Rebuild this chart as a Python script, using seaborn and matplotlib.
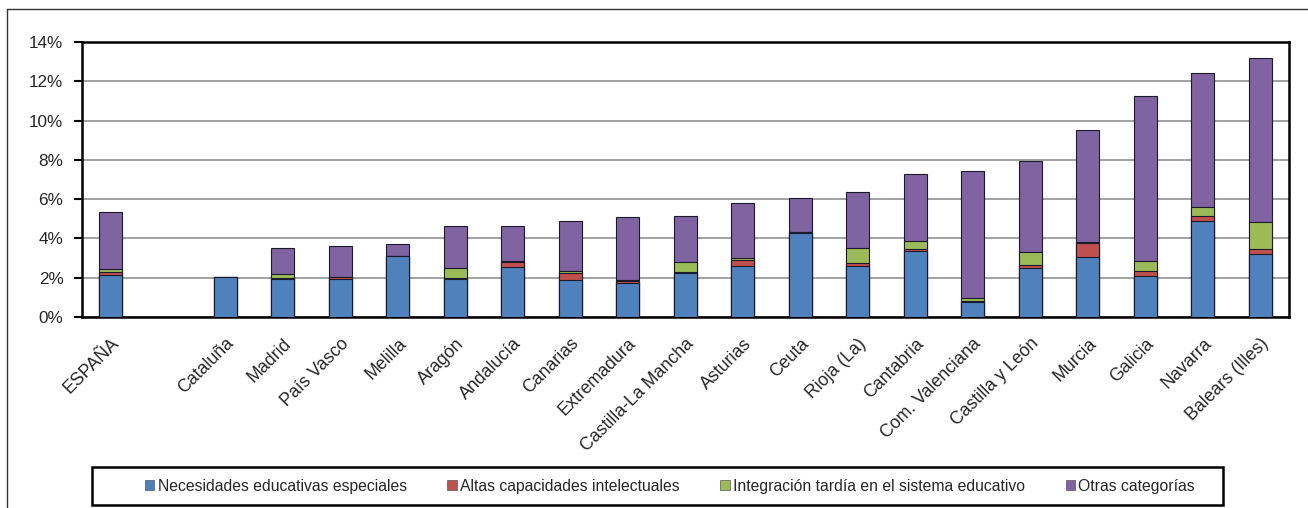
import numpy as np
import pandas as pd
import matplotlib
matplotlib.use("Agg")
import matplotlib.pyplot as plt
from matplotlib.lines import Line2D
from matplotlib.patches import Patch, Rectangle
import seaborn as sns

regions = ["ESPAÑA", " ", "Cataluña", "Madrid", "País Vasco", "Melilla", "Aragón",
           "Andalucía", "Canarias", "Extremadura", "Castilla-La Mancha", "Asturias",
           "Ceuta", "Rioja (La)", "Cantabria", "Com. Valenciana", "Castilla y León",
           "Murcia", "Galicia", "Navarra", "Balears (Illes)"]

nee = [2.12, 0, 2.02, 1.92, 1.93, 3.10, 1.93, 2.56, 1.87, 1.71, 2.22, 2.60,
       4.26, 2.61, 3.34, 0.75, 2.48, 3.04, 2.07, 4.89, 3.19]
altas = [0.17, 0, 0.01, 0.08, 0.09, 0.02, 0.04, 0.24, 0.35, 0.12, 0.09, 0.30,
         0.07, 0.12, 0.12, 0.05, 0.15, 0.71, 0.27, 0.24, 0.26]
tardia = [0.17, 0, 0.01, 0.17, 0.01, 0.00, 0.50, 0.05, 0.10, 0.04, 0.47, 0.12,
          0.02, 0.77, 0.39, 0.15, 0.66, 0.08, 0.53, 0.45, 1.37]
otras = [2.87, 0, 0.01, 1.33, 1.57, 0.58, 2.17, 1.80, 2.58, 3.20, 2.34, 2.78,
         1.69, 2.88, 3.41, 6.48, 4.64, 5.67, 8.40, 6.82, 8.38]

series_names = ["Necesidades educativas especiales", "Altas capacidades intelectuales",
                "Integración tardía en el sistema educativo", "Otras categorías"]
colors = ["#4F81BD", "#C0504D", "#9BBB59", "#8064A2"]
yticks = [0, 2, 4, 6, 8, 10, 12, 14]

sns.set_style("white")
plt.rcParams["font.family"] = ["Liberation Sans", "DejaVu Sans"]

df = pd.DataFrame({"region": regions, "s0": nee, "s1": altas, "s2": tardia, "s3": otras})
cum = df[["s0", "s1", "s2", "s3"]].cumsum(axis=1)

W, H = 1308, 508
fig = plt.figure(figsize=(W / 100, H / 100), dpi=100)
ax = fig.add_axes([81.5 / W, 1 - 317 / H, (1289 - 81.5) / W, (317 - 42) / H])

for k in [3, 2, 1, 0]:
    sns.barplot(x=df["region"], y=cum[f"s{k}"], order=regions, color=colors[k],
                width=0.4, edgecolor="#1a1a2a", linewidth=0.8, saturation=1,
                errorbar=None, ax=ax, zorder=3)

ax.set_ylim(0, 14)
ax.set_xlim(-0.5, len(regions) - 0.5)
ax.set_yticks(yticks)
ax.set_yticklabels([f"{v}%" for v in yticks], fontsize=12.3)
ax.yaxis.grid(True, color="#9a9a9a", linewidth=1.3, zorder=0)
ax.set_axisbelow(True)
ax.set_xlabel("")
ax.set_ylabel("")

ax.set_xticks(range(len(regions)))
ax.set_xticklabels(regions, rotation=45, ha="right", rotation_mode="anchor", fontsize=12.8)
ax.tick_params(axis="x", which="major", length=0, pad=13)
ax.set_xticks(np.arange(-0.5, len(regions)), minor=True)
ax.tick_params(axis="x", which="minor", length=6, width=1.5, direction="out", color="black")
ax.tick_params(axis="y", length=6, width=1.5, direction="out", color="black", left=True, pad=7)

for s in ax.spines.values():
    s.set_color("black")
    s.set_linewidth(1.8)
    s.set_visible(True)

handles = [Patch(facecolor=c, edgecolor="#555555", linewidth=0.5) for c in colors]
leg = fig.legend(handles, series_names, loc="center left", ncol=4,
                 bbox_to_anchor=(145 / W, 1 - 486 / H), fontsize=11.3,
                 frameon=False, handlelength=0.6, handleheight=0.6, handletextpad=0.2,
                 columnspacing=2.6, borderpad=0.0, borderaxespad=0.0)

fig.add_artist(Rectangle((92 / W, 1 - 505 / H), (1223 - 92) / W, 38 / H,
                         transform=fig.transFigure, fill=False, edgecolor="black",
                         linewidth=1.8))
fig.add_artist(Line2D([7 / W, 1], [1 - 9 / H, 1 - 9 / H], color="#333333", linewidth=1.0))
fig.add_artist(Line2D([7 / W, 7 / W], [0, 1 - 9 / H], color="#333333", linewidth=1.0))

fig.savefig("out.png", dpi=100)
